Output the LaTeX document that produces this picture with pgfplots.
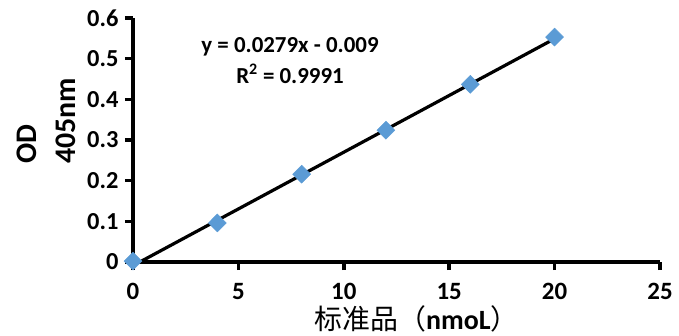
\documentclass[border=0pt]{standalone}
\usepackage{pgfplots}
\pgfplotsset{compat=1.18}
\usepackage{fontspec}
\setmainfont{Carlito}
\newfontfamily\cjk{Noto Sans CJK SC}
\definecolor{ptblue}{HTML}{5B9BD5}
\begin{document}
\begin{tikzpicture}
\path[use as bounding box] (-133bp,-74bp) rectangle (546bp,262bp);
\begin{axis}[
  scale only axis,
  width=527bp, height=244bp,
  anchor=origin, at={(0,0)},
  xmin=0, xmax=25, ymin=0, ymax=0.6,
  axis lines=left,
  axis line style={-, line width=3.5bp},
  clip=false,
  xtick={0,5,10,15,20,25},
  ytick={0,0.1,0.2,0.3,0.4,0.5,0.6},
  yticklabels={0,0.1,0.2,0.3,0.4,0.5,0.6},
  xticklabels={0,5,10,15,20,25},
  tick align=outside,
  major tick length=8bp,
  tick style={line width=3.5bp, black},
  tick label style={font=\bfseries\fontsize{24.5}{28}\selectfont},
  xticklabel style={yshift=-10bp, font=\bfseries\fontsize{25}{28}\selectfont},
  yticklabel style={xshift=-3bp},
  /pgf/number format/assume math mode=true,
  xlabel={{\cjk 标准品（}\textbf{nmoL}{\cjk ）}},
  xlabel style={font=\fontsize{28}{30}\selectfont, at={(axis description cs:0.5,0)}, anchor=center, yshift=-57bp, xshift=20bp, inner ysep=0pt},
  ylabel={OD\\405nm},
  ylabel style={font=\bfseries\fontsize{30}{39}\selectfont, align=left, at={(axis description cs:-0.164,0.578)}, anchor=center},
]
\addplot[black, line width=3.2bp] coordinates {(0.3226,0) (20,0.549)};
\addplot[only marks, mark=diamond*, mark size=9bp, mark options={fill=ptblue, draw=ptblue, xscale=1.333}] coordinates {
(0,0.002) (4,0.096) (8,0.216) (12,0.324) (16,0.437) (20,0.553)};
\node[align=center, font=\bfseries\fontsize{23}{31}\selectfont] at (axis cs:7.45,0.496) {y = 0.0279x - 0.009\\R\textsuperscript{2} = 0.9991};
\end{axis}
\end{tikzpicture}
\end{document}
